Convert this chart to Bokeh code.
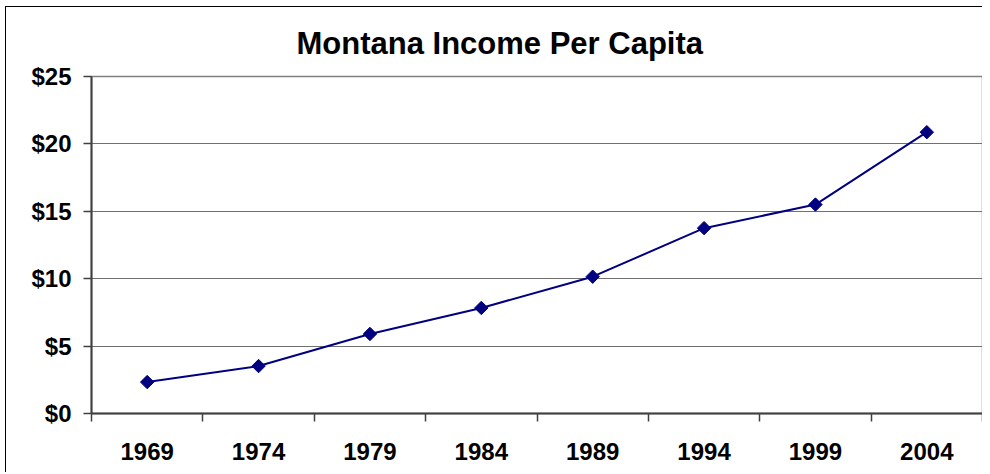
import numpy as np
from bokeh.plotting import figure
from bokeh.models import Range1d, FixedTicker, NumeralTickFormatter, ColumnDataSource, Title
from bokeh.embed import file_html
from bokeh.resources import INLINE

title_text = "Montana Income Per Capita"
years = ["1969", "1974", "1979", "1984", "1989", "1994", "1999", "2004"]
income = [2.33, 3.52, 5.9, 7.83, 10.15, 13.75, 15.5, 20.87]
y_ticks = [0, 5, 10, 15, 20, 25]

xpos = list(np.arange(len(years)) + 0.5)
src = ColumnDataSource(dict(x=xpos, y=income, year=years))

FONT = "Liberation Sans"

p = figure(width=977, height=466, output_backend="svg", toolbar_location=None,
           x_range=Range1d(0, len(years)), y_range=Range1d(0, 25),
           min_border_left=85, min_border_right=1, min_border_top=69, min_border_bottom=60)
p.title = Title(text=title_text, align="left", offset=205, vertical_align="top",
                text_font=FONT, text_font_size="31px", text_font_style="bold",
                text_color="black", standoff=28)

p.line("x", "y", source=src, line_color="#000080", line_width=2)
p.scatter("x", "y", source=src, marker="square", size=9.5, angle=np.pi / 4,
          fill_color="#000080", line_color="#000080")

# x axis: category labels centered, ticks between categories
xa = p.xaxis[0]
xa.ticker = FixedTicker(ticks=xpos, minor_ticks=list(range(len(years) + 1)))
xa.major_label_overrides = {float(x): y for x, y in zip(xpos, years)}
xa.major_tick_out = 0
xa.major_tick_in = 0
xa.minor_tick_out = 8
xa.minor_tick_in = 0
xa.minor_tick_line_color = "#404040"
xa.minor_tick_line_width = 1.5
xa.axis_line_color = "#404040"
xa.axis_line_width = 2
xa.major_label_text_font = FONT
xa.major_label_text_font_size = "24px"
xa.major_label_text_font_style = "bold"
xa.major_label_text_color = "black"
xa.major_label_standoff = 21

ya = p.yaxis[0]
ya.ticker = FixedTicker(ticks=y_ticks, minor_ticks=[])
ya.formatter = NumeralTickFormatter(format="$0")
ya.major_tick_out = 8
ya.major_tick_in = 0
ya.major_tick_line_color = "#404040"
ya.major_tick_line_width = 1.5
ya.minor_tick_out = 0
ya.minor_tick_in = 0
ya.axis_line_color = "#404040"
ya.axis_line_width = 2
ya.major_label_text_font = FONT
ya.major_label_text_font_size = "24px"
ya.major_label_text_font_style = "bold"
ya.major_label_text_color = "black"
ya.major_label_standoff = 12

p.xgrid.grid_line_color = None
p.ygrid.ticker = FixedTicker(ticks=y_ticks)
p.ygrid.grid_line_color = "#707070"
p.ygrid.grid_line_width = 1

p.outline_line_color = "#808080"
p.outline_line_width = 1.5
p.background_fill_color = "white"
p.border_fill_color = "white"
p.styles = {"margin-left": "5px", "margin-top": "6px",
            "border-left": "1.5px solid black", "border-top": "1.5px solid black"}

open("out.html", "w").write(file_html(p, INLINE))
